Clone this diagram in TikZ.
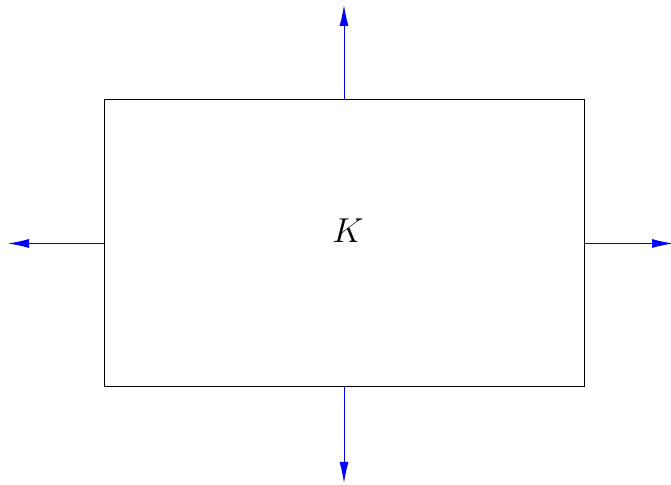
\documentclass[tikz,border=0pt]{standalone}
\usetikzlibrary{arrows.meta}

\begin{document}
\begin{tikzpicture}[
    x=0.5pt, y=-0.5pt,
    every node/.style={font=\LARGE},
    region/.style={draw=black, line width=0.5pt, rectangle,
                minimum width=240pt, minimum height=143.5pt, inner sep=0pt},
    normal/.style={-{Latex[length=10.5pt,width=4.5pt]}, draw=blue,
                fill=blue, line width=0.5pt}
]
  \useasboundingbox (0,0) rectangle (671,485);

  % --- Region and its label ---
  \node[region] (reg) at (344,243.5) {};
  \node (klabel) at (348,231) {$K$};

  % --- Ends of the outward arrows ---
  \coordinate (topEnd)   at (344,5);
  \coordinate (botEnd)   at (344,483);
  \coordinate (leftEnd)  at (8,243.5);
  \coordinate (rightEnd) at (673,243.5);

  % --- Outward arrows ---
  \draw[normal] (reg.north) -- (topEnd);
  \draw[normal] (reg.south) -- (botEnd);
  \draw[normal] (reg.west)  -- (leftEnd);
  \draw[normal] (reg.east)  -- (rightEnd);
\end{tikzpicture}
\end{document}
